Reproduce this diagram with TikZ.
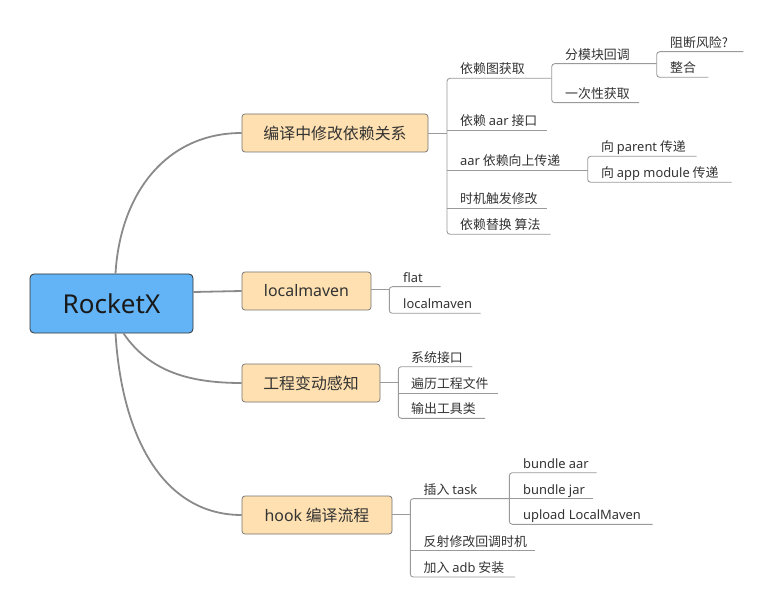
\documentclass[tikz,border=0pt]{standalone}
\usepackage{fontspec}
\setmainfont{Noto Sans CJK SC}
\newfontfamily\lat{Noto Sans}
\definecolor{rootfill}{HTML}{62B4F6}
\definecolor{brfill}{HTML}{FFE0B0}
\definecolor{txt}{HTML}{333333}
\definecolor{curve}{HTML}{8A8A8A}
\definecolor{twig}{HTML}{9A9A9A}
\tikzset{
  rootbox/.style={draw=black!80, line width=0.8pt, fill=rootfill, rounded corners=4pt,
    minimum width=163pt, minimum height=59pt, inner sep=0pt,
    font=\lat\fontsize{26}{30}\selectfont, text=black!90},
  brbox/.style={draw=black!55, line width=0.7pt, fill=brfill, rounded corners=3pt,
    minimum height=38pt, inner sep=0pt, font=\fontsize{15.9}{19}\selectfont, text=txt},
  leaf/.style={anchor=base west, inner sep=0pt, font=\fontsize{12.9}{15}\selectfont, text=txt},
  mainline/.style={draw=curve, line width=1.8pt},
  twigline/.style={draw=twig, line width=0.9pt},
  bracket/.style={draw=twig, line width=0.9pt, rounded corners=3pt},
}
\begin{document}
\begin{tikzpicture}[x=1pt,y=-1pt]
\useasboundingbox (0,0) rectangle (773,609);

% root and branches
\node[rootbox] (root) at (111.5,303.5) {RocketX};
\node[brbox, minimum width=186pt] (b1) at (335,133) {编译中修改依赖关系};
\node[brbox, minimum width=129pt] (b2) at (306.5,291) {\lat localmaven};
\node[brbox, minimum width=138pt] (b3) at (311,383) {工程变动感知};
\node[brbox, minimum width=150pt] (b4) at (317,515) {{\lat hook} 编译流程};

% main curves
\draw[mainline] ([xshift=4pt]root.north) .. controls (120,195) and (165,133) .. (b1.west);
\draw[mainline] (root.east |- 0,292) -- (b2.west);
\draw[mainline] ([xshift=12pt]root.south) .. controls (150,372) and (190,383) .. (b3.west);
\draw[mainline] ([xshift=4pt]root.south) .. controls (122,440) and (165,515) .. (b4.west);

% ---- branch 1 ----
\coordinate (j1) at (447,133);
\draw[twigline] (b1.east) -- (j1);
\draw[bracket] (551.7,78.3) -- (447,78.3) -- (447,234.3) -- (550.7,234.3);
\draw[twigline] (447,130) -- (547.3,130);
\draw[twigline] (447,170) -- (587.7,170);
\draw[twigline] (447,208.3) -- (547.3,208.3);
\draw[bracket] (656.7,63.7) -- (551.7,63.7) -- (551.7,102.7) -- (639,102.7);
\draw[bracket] (743.3,51.7) -- (656.7,51.7) -- (656.7,77.3) -- (708.3,77.3);
\draw[bracket] (696.7,156.3) -- (587.7,156.3) -- (587.7,182.3) -- (731.7,182.3);

\node[leaf] (l11) at (460,73.8) {依赖图获取};
\node[leaf] (l111) at (565,59.2) {分模块回调};
\node[leaf] (l1111) at (670,47.2) {阻断风险?};
\node[leaf] (l1112) at (670,72.8) {整合};
\node[leaf] (l112) at (565,98.2) {一次性获取};
\node[leaf] (l12) at (460,125.5) {依赖 {\lat aar} 接口};
\node[leaf] (l13) at (460,165.5) {{\lat aar} 依赖向上传递};
\node[leaf] (l131) at (601,151.8) {向 {\lat parent} 传递};
\node[leaf] (l132) at (601,177.8) {向 {\lat app module} 传递};
\node[leaf] (l14) at (460,203.8) {时机触发修改};
\node[leaf] (l15) at (460,229.8) {依赖替换 算法};

% ---- branch 2 ----
\coordinate (j2) at (389.3,289.3);
\draw[twigline] (b2.east |- j2) -- (j2);
\draw[bracket] (440.7,286.7) -- (389.3,286.7) -- (389.3,313.3) -- (480.7,313.3);
\node[leaf] (l21) at (403,282.2) {\lat flat};
\node[leaf] (l22) at (403,308.8) {\lat localmaven};

% ---- branch 3 ----
\coordinate (j3) at (398.3,382);
\draw[twigline] (b3.east |- j3) -- (j3);
\draw[bracket] (472.3,366.7) -- (398.3,366.7) -- (398.3,418.3) -- (485,418.3);
\draw[twigline] (398.3,393.3) -- (498.3,393.3);
\node[leaf] (l31) at (411,362.2) {系统接口};
\node[leaf] (l32) at (411,388.8) {遍历工程文件};
\node[leaf] (l33) at (411,413.8) {输出工具类};

% ---- branch 4 ----
\coordinate (j4) at (410.3,514);
\draw[twigline] (b4.east |- j4) -- (j4);
\draw[bracket] (509.3,498.6) -- (410.3,498.6) -- (410.3,577) -- (515,577);
\draw[twigline] (410.3,550.7) -- (535,550.7);
\draw[bracket] (596.7,472.7) -- (509.3,472.7) -- (509.3,524.3) -- (652.7,524.3);
\draw[twigline] (509.3,498.6) -- (593.3,498.6);
\node[leaf] (l41) at (423.5,494.1) {插入 {\lat task}};
\node[leaf] (l411) at (523,468.2) {\lat bundle aar};
\node[leaf] (l412) at (523,494.1) {\lat bundle jar};
\node[leaf] (l413) at (523,519.8) {\lat upload LocalMaven};
\node[leaf] (l42) at (423.5,546.2) {反射修改回调时机};
\node[leaf] (l43) at (423.5,572.5) {加入 {\lat adb} 安装};
\end{tikzpicture}
\end{document}
